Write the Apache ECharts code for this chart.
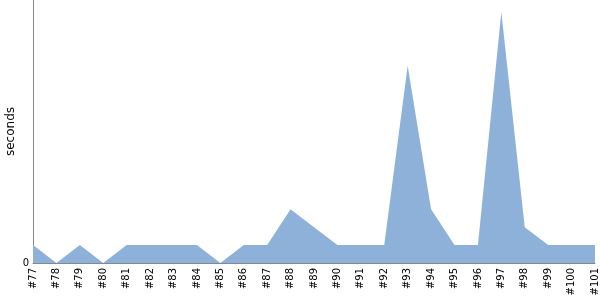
<!DOCTYPE html>
<html><head><meta charset="utf-8">
<script src="https://cdn.jsdelivr.net/npm/echarts@6/dist/echarts.min.js"></script>
<style>html,body{margin:0;padding:0;background:#fff}#c{width:600px;height:300px}</style>
</head><body><div id="c"></div>
<script>
const categories = ['#77','#78','#79','#80','#81','#82','#83','#84','#85','#86','#87','#88','#89','#90','#91','#92','#93','#94','#95','#96','#97','#98','#99','#100','#101'];
const seconds = [1,0,1,0,1,1,1,1,0,1,1,3,2,1,1,1,11,3,1,1,14,2,1,1,1];
const yTicks = ['0'];
const chart = echarts.init(document.getElementById('c'), null, {renderer:'canvas'});
chart.setOption({
  animation:false,
  grid:{left:33,right:5,top:0,bottom:37,containLabel:false,outerBoundsMode:'none'},
  xAxis:{type:'category',data:categories,boundaryGap:false,
    axisLine:{lineStyle:{color:'#888',width:1}},axisTick:{show:false},
    axisLabel:{rotate:90,interval:0,color:'#000',fontFamily:'DejaVu Sans',fontSize:10,margin:5}},
  yAxis:{type:'value',min:0,max:14.67,interval:20,name:'seconds',nameLocation:'middle',nameGap:16,
    nameMoveOverlap:false,
    nameTextStyle:{color:'#000',fontFamily:'DejaVu Sans',fontSize:12},
    axisLine:{show:true,lineStyle:{color:'#888',width:1}},axisTick:{show:false},splitLine:{show:false},
    axisLabel:{color:'#000',fontFamily:'DejaVu Sans',fontSize:10,margin:4,showMaxLabel:false,
      formatter:v=>v===0?yTicks[0]:''}},
  series:[{type:'line',data:seconds,showSymbol:false,lineStyle:{width:0},
    areaStyle:{color:'#8EB1DA',opacity:1}}]
});
</script></body></html>
